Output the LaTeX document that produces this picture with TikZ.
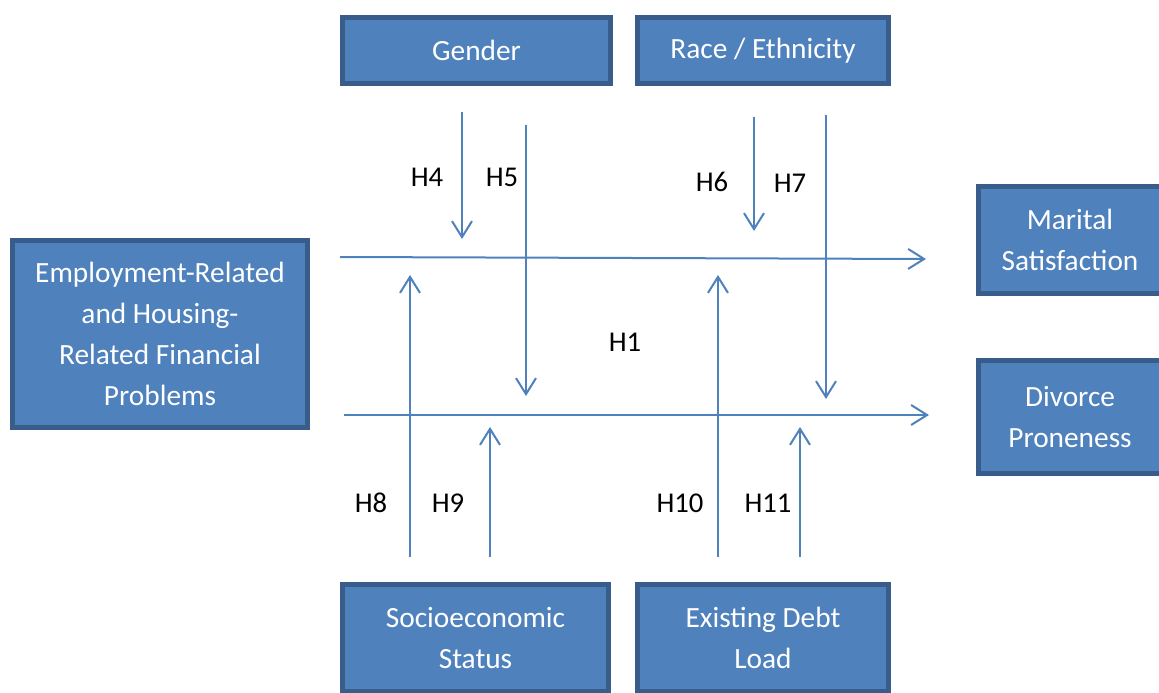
\documentclass[tikz,border=0pt]{standalone}
\usepackage{fontspec}
\setmainfont{Carlito}
\usetikzlibrary{arrows.meta,positioning}
\definecolor{boxfill}{HTML}{4F81BD}
\definecolor{boxline}{HTML}{385D8A}

\begin{document}
\begin{tikzpicture}[x=0.75pt,y=-0.75pt]
	\tikzstyle{var}=[draw=boxline, line width=3.5pt, fill=boxfill, rectangle, text=white, align=center, inner sep=0pt, font=\fontsize{22}{30.75}\selectfont]
	\tikzstyle{hyp}=[draw=boxfill, line width=1.5pt, -{Straight Barb[length=12pt,width=15pt]}]
	\tikzstyle{lbl}=[font=\fontsize{21.5}{25}\selectfont]

	\useasboundingbox (0,0) rectangle (1159,692);

	\node[var, minimum width=201pt, minimum height=49.5pt] (gender) at (476.5,50.5) {Gender};
	\node[var, minimum width=188pt, minimum height=49.5pt] (race) at (763,50.5) {Race / Ethnicity};
	\node[var, minimum width=221pt, minimum height=140pt] (fin) at (160,334) {Employment-Related\\and Housing-\\Related Financial\\Problems};
	\node[var, minimum width=137pt, minimum height=80pt] (marital) at (1070,240) {Marital\\Satisfaction};
	\node[var, minimum width=137pt, minimum height=85pt] (divorce) at (1070,417) {Divorce\\Proneness};
	\node[var, minimum width=199.5pt, minimum height=80pt] (ses) at (475.5,638) {Socioeconomic\\Status};
	\node[var, minimum width=188pt, minimum height=80pt] (debt) at (763,638) {Existing Debt\\Load};

	% main paths
	\coordinate (msA) at (340,257);
	\coordinate (msB) at (926,259);
	\coordinate (dpA) at (344,415);
	\coordinate (dpB) at (929,415);
	\draw[hyp] (msA) -- (msB);
	\draw[hyp] (dpA) -- (dpB);

	% moderators from above
	\coordinate (h4a) at (462,112);
	\coordinate (h4b) at (462,239);
	\coordinate (h5a) at (526,125);
	\coordinate (h5b) at (526,396);
	\coordinate (h6a) at (754,117);
	\coordinate (h6b) at (754,231);
	\coordinate (h7a) at (826,115);
	\coordinate (h7b) at (826,399);
	\draw[hyp] (h4a) -- (h4b);
	\draw[hyp] (h5a) -- (h5b);
	\draw[hyp] (h6a) -- (h6b);
	\draw[hyp] (h7a) -- (h7b);

	% moderators from below
	\coordinate (h8a) at (410,557);
	\coordinate (h8b) at (410,275);
	\coordinate (h9a) at (490,557);
	\coordinate (h9b) at (490,427);
	\coordinate (h10a) at (718,557);
	\coordinate (h10b) at (718,275);
	\coordinate (h11a) at (800,557);
	\coordinate (h11b) at (800,427);
	\draw[hyp] (h8a) -- (h8b);
	\draw[hyp] (h9a) -- (h9b);
	\draw[hyp] (h10a) -- (h10b);
	\draw[hyp] (h11a) -- (h11b);

	\node[lbl] (lh1) at (625,342) {H1};
	\node[lbl] (lh4) at (427,177) {H4};
	\node[lbl] (lh5) at (502,177) {H5};
	\node[lbl] (lh6) at (712,182) {H6};
	\node[lbl] (lh7) at (790,183) {H7};
	\node[lbl] (lh8) at (371,503) {H8};
	\node[lbl] (lh9) at (448,503) {H9};
	\node[lbl] (lh10) at (680,503) {H10};
	\node[lbl] (lh11) at (768,503) {H11};
\end{tikzpicture}
\end{document}
